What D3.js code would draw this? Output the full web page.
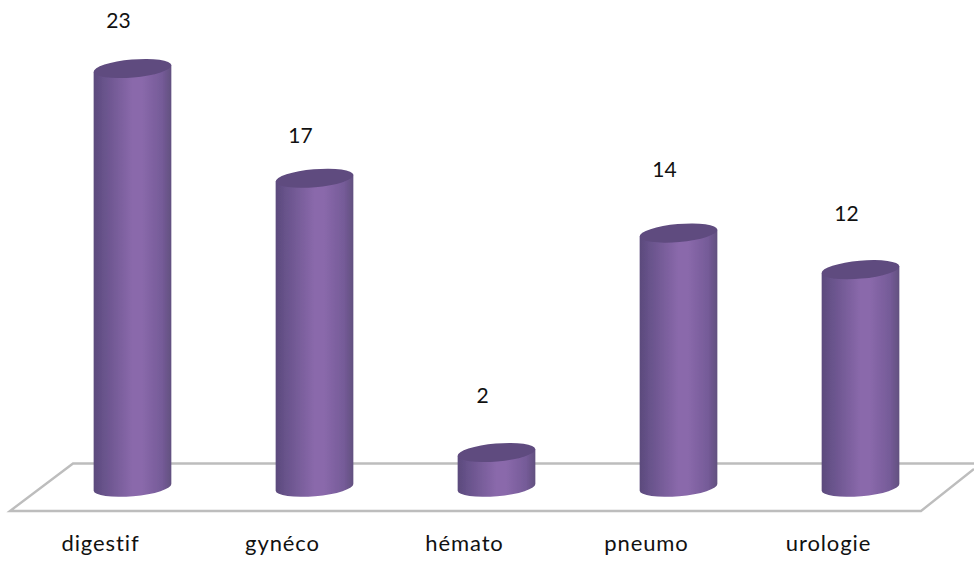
<!DOCTYPE html>
<html><head><meta charset="utf-8">
<script src="https://cdnjs.cloudflare.com/ajax/libs/d3/7.8.5/d3.min.js"></script>
<style>html,body{margin:0;padding:0;background:#fff}svg{display:block}text{font-family:Lato,"Open Sans",sans-serif;fill:#111;font-variant-ligatures:none}</style>
</head><body><svg id="c" width="974" height="563"></svg>
<script>
const categories = ["digestif","gynéco","hémato","pneumo","urologie"];
const values = [23,17,2,14,12];
const baseValue = 0.1;
const labelLift = [48.5,43,58,64,57];

const svg = d3.select("#c");
const x = d3.scaleBand().domain(categories).range([94,899]).paddingInner(0.577).paddingOuter(0);
const y = d3.scaleLinear().domain([0,23]).range([489.1,68.5]);
const rx = x.bandwidth()/2+0.5, ry = 9, tilt = -5;
const cs = Math.cos(tilt*Math.PI/180)*rx, sn = Math.sin(tilt*Math.PI/180)*rx;
const cx = c => x(c)+x.bandwidth()/2;

const defs = svg.append("defs");
const grad = defs.append("linearGradient").attr("id","body");
[[0,"#5b4a7c"],[0.12,"#67528a"],[0.5,"#8a69ab"],[0.62,"#8a69ab"],[0.88,"#755b98"],[1,"#62507f"]]
  .forEach(([o,col])=>grad.append("stop").attr("offset",o).attr("stop-color",col));
defs.append("filter").attr("id","soft").append("feGaussianBlur").attr("stdDeviation",0.5);

// floor
svg.append("path")
  .attr("d","M974,463.5H73L10,511H921L974,469")
  .attr("fill","none").attr("stroke","#bdbdbd").attr("stroke-width",2.4).attr("stroke-linejoin","miter");

const bars = svg.selectAll("g.bar").data(categories).join("g").attr("class","bar").attr("filter","url(#soft)");
bars.append("path").attr("fill","url(#body)").attr("d",(c,i)=>{
  const X=cx(c), t=y(values[i]), b=y(baseValue);
  return `M${X-cs},${b-sn}A${rx},${ry} ${tilt} 0 0 ${X+cs},${b+sn}L${X+cs},${t+sn}L${X-cs},${t-sn}Z`;
});
bars.append("ellipse").attr("fill","#5f4b7f")
  .attr("rx",rx).attr("ry",ry)
  .attr("transform",(c,i)=>`translate(${cx(c)},${y(values[i])}) rotate(${tilt})`);

svg.selectAll("text.val").data(categories).join("text").attr("class","val")
  .attr("x",c=>cx(c)-14).attr("y",(c,i)=>y(values[i])-labelLift[i]+8)
  .attr("text-anchor","middle").attr("font-size",21).text((c,i)=>values[i]);

svg.selectAll("text.cat").data(categories).join("text").attr("class","cat")
  .attr("x",c=>cx(c)-32).attr("y",551)
  .attr("text-anchor","middle").attr("font-size",22).attr("letter-spacing",0.9).text(c=>c);
</script></body></html>
